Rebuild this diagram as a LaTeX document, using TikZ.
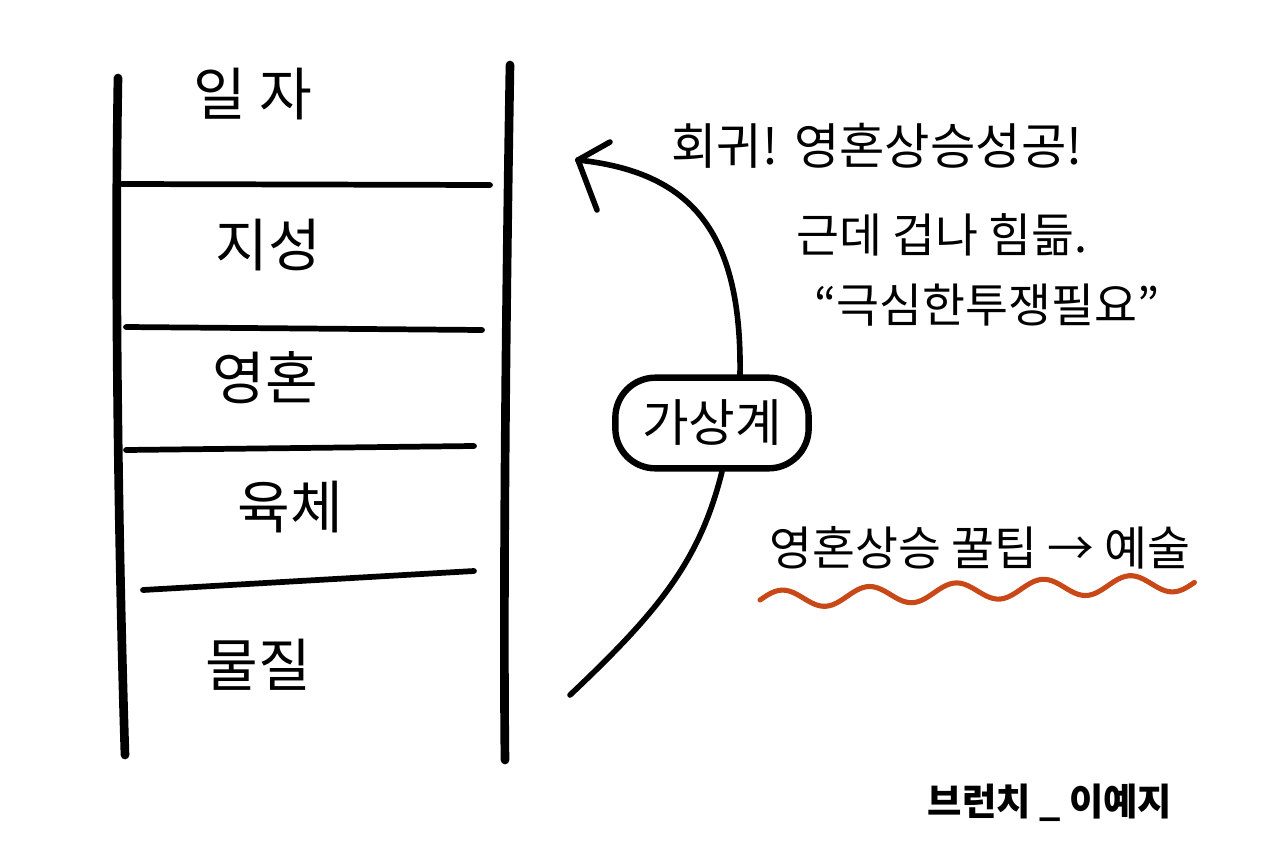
\documentclass[tikz,border=0pt]{standalone}
\usepackage{fontspec}
\setmainfont{Noto Sans CJK KR}
\begin{document}
\begin{tikzpicture}[x=0.75pt,y=-0.75pt,
  ink/.style={line cap=round,line join=round,draw=black},
  rail/.style={ink,line width=6.5pt},
  rung/.style={ink,line width=4.3pt},
  curveline/.style={ink,line width=4.2pt},
  lbl/.style={inner sep=0pt,font=\fontsize{43}{45}\selectfont},
  note/.style={inner sep=0pt,font=\fontsize{35}{37}\selectfont},
]
\useasboundingbox[fill=white] (0,0) rectangle (1280,853);
% ladder rails
\coordinate (l1) at (118,78);  \coordinate (l2) at (125,755);
\coordinate (r1) at (510,65);  \coordinate (r2) at (505,760);
\draw[rail] (l1) .. controls (114,300) and (120,600) .. (l2);
\draw[rail] (r1) .. controls (506,300) and (503,600) .. (r2);
% rungs
\coordinate (a1) at (122,184); \coordinate (a2) at (490,185);
\coordinate (b1) at (126,327); \coordinate (b2) at (482,330);
\coordinate (c1) at (126,450); \coordinate (c2) at (474,446);
\coordinate (d1) at (143,590); \coordinate (d2) at (474,571);
\draw[rung] (a1) -- (a2);
\draw[rung] (b1) -- (b2);
\draw[rung] (c1) -- (c2);
\draw[rung] (d1) -- (d2);
% ladder labels
\node[lbl] (t1) at (253,94) {일 자};
\node[lbl] (t2) at (268,245) {지성};
\node[lbl] (t3) at (265,378) {영혼};
\node[lbl] (t4) at (290,507) {육체};
\node[lbl] (t5) at (258,665) {물질};
% box
\node[draw=black,line width=4.8pt,rounded corners=30pt,minimum width=145pt,minimum height=68pt,inner sep=0pt,font=\fontsize{38}{40}\selectfont] (box) at (712,423) {가상계};
% curves
\coordinate (tip) at (578,160);
\coordinate (start) at (570,695);
\draw[curveline] (box.north -| 740,0) .. controls (742,230) and (690,172) .. (tip);
\draw[curveline] (tip) -- (610,142);
\draw[curveline] (tip) -- (597,210);
\draw[curveline] (box.south -| 722,0) .. controls (700,560) and (660,610) .. (start);
% notes
\node[inner sep=0pt,font=\fontsize{37}{39}\selectfont] (n1) at (877,146) {회귀!\hspace{12pt}영혼상승성공!};
\node[note] (n2) at (942,235) {근데 겁나 힘듦.};
\node[note] (n3) at (987,305) {“극심한투쟁필요”};
\node[inner sep=0pt,font=\fontsize{35}{37}\selectfont] (n4) at (980,548) {영혼상승 꿀팁 → 예술};
\draw[line width=3.8pt,draw={rgb,255:red,201;green,72;blue,24},line cap=round]
  plot[domain=0:1,samples=120] ({760+435*\x},{600-18*\x-9*sin(\x*5*360)});
\node[inner sep=0pt,font=\fontsize{28}{30}\selectfont\bfseries] (sig) at (1050,803) {브런치 \_ 이예지};
\end{tikzpicture}
\end{document}
